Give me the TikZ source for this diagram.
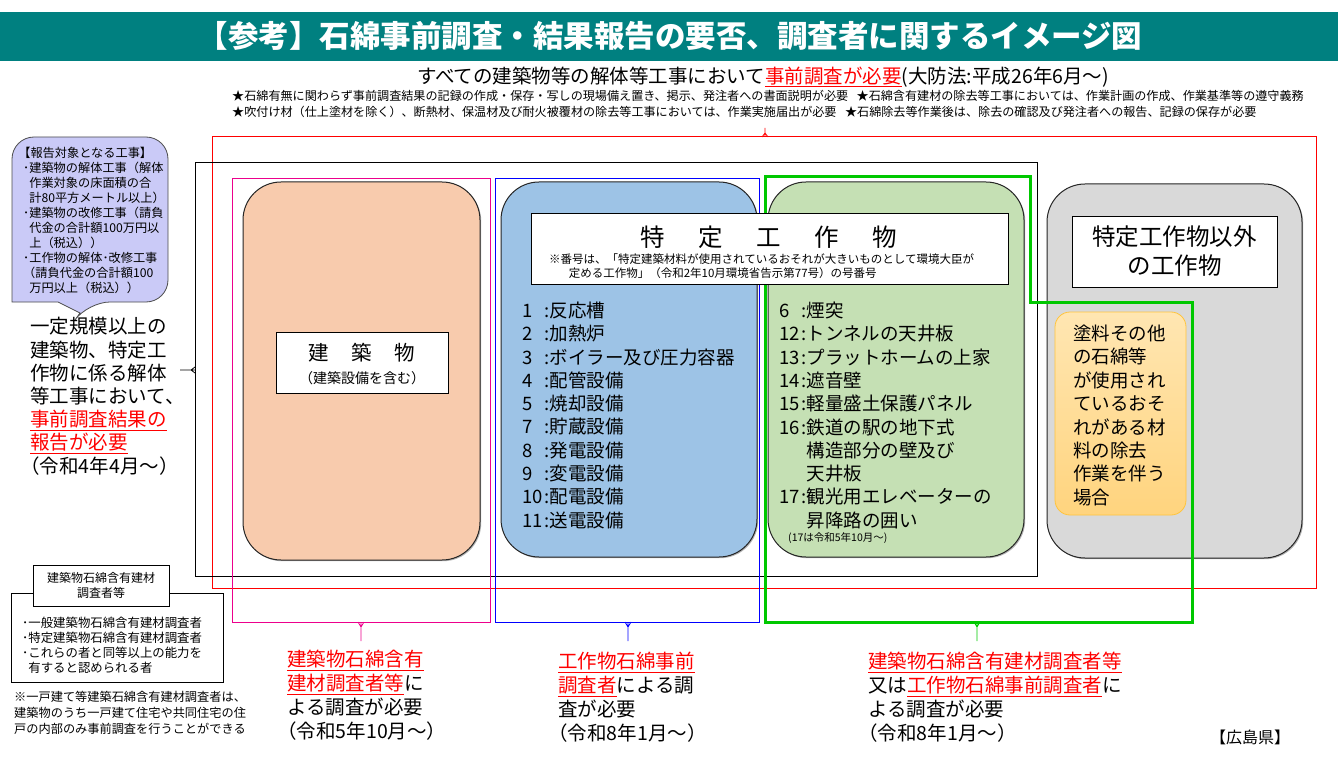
\documentclass[tikz,border=0pt]{standalone}
\usepackage{fontspec}
\setmainfont{Noto Sans CJK JP}
\usetikzlibrary{shadows}
\definecolor{bandteal}{HTML}{008080}
\definecolor{bldfill}{HTML}{F8CBAD}
\definecolor{plantfill}{HTML}{9DC3E6}
\definecolor{infrafill}{HTML}{C5E0B4}
\definecolor{otherfill}{HTML}{D9D9D9}
\definecolor{paintup}{HTML}{FFE6B2}
\definecolor{paintdown}{HTML}{FFD47E}
\definecolor{paintedge}{HTML}{FFC43D}
\definecolor{balloon}{HTML}{CACAF7}
\definecolor{frgreen}{HTML}{00C800}
\newcommand\setfs[2]{\fontsize{#1}{#2}\selectfont}
\newcommand\redul[1]{{\color{red}\underline{#1}}}
\newcommand\lno[1]{\makebox[1.2em][l]{#1}:}
\newcommand\lcont{\phantom{\lno{0}}}
\newcommand\opn{\hspace*{-.5em}}
\tikzset{
  bigbox/.style={draw=black!85,line width=1pt,rounded corners=38pt,
    drop shadow={shadow xshift=1.2pt,shadow yshift=-1.2pt,fill=black!60,opacity=.5}},
  labelbox/.style={draw,fill=white,line width=.8pt,inner sep=0pt},
  txt/.style={inner sep=0pt,align=left,anchor=north west},
  frame/.style={line width=1pt},
  tick/.style={line width=.8pt},
}

\begin{document}
\begin{tikzpicture}[x=1pt,y=-1pt]
\useasboundingbox (0,0) rectangle (1338,767);

% title band
\fill[bandteal] (0,12) rectangle (1338,61);
\node[text=white,font=\bfseries\setfs{30.5}{36}] (title) at (670,36) {【参考】石綿事前調査・結果報告の要否、調査者に関するイメージ図};

\node[font=\setfs{19.5}{23}] (allwork) at (763,77) {すべての建築物等の解体等工事において\redul{事前調査が必要}(大防法:平成26年6月～)};
\node[txt,anchor=west,font=\setfs{12.1}{15}] (dutya) at (232,96) {★石綿有無に関わらず事前調査結果の記録の作成・保存・写しの現場備え置き、掲示、発注者への書面説明が必要\hspace{.7em}★石綿含有建材の除去等工事においては、作業計画の作成、作業基準等の遵守義務};
\node[txt,anchor=west,font=\setfs{12.1}{15}] (dutyb) at (232,112) {★吹付け材（仕上塗材を除く）、断熱材、保温材及び耐火被覆材の除去等工事においては、作業実施届出が必要\hspace{.7em}★石綿除去等作業後は、除去の確認及び発注者への報告、記録の保存が必要};

% big rounded boxes
\draw[bigbox,fill=bldfill] (243,182) rectangle (480,560);
\draw[bigbox,fill=plantfill] (501,182) rectangle (757,557);
\draw[bigbox,fill=infrafill] (768,182) rectangle (1024,557);
\draw[bigbox,fill=otherfill] (1047,184) rectangle (1302,558);
\draw[draw=paintedge,line width=.8pt,rounded corners=15pt,top color=paintup,bottom color=paintdown] (1055,312) rectangle (1186,515);

% frames
\draw[frame,red] (212,137) rectangle (1316,588);
\draw[frame,black] (195,163) rectangle (1037,576);
\draw[frame,magenta] (232,179) rectangle (490,622);
\draw[frame,blue] (495,179) rectangle (759,622);
\draw[frgreen,line width=3pt] (765,177) -- (1030,177) -- (1030,302) -- (1192,302) -- (1192,622) -- (765,622) -- cycle;

% label boxes
\node[labelbox,minimum width=172pt,minimum height=61pt] (bldlabel) at (362,362.5) {};
\node[font=\setfs{20.5}{24}] (bldname) at (362,353) {建\hspace{1.1em}築\hspace{1.1em}物};
\node[font=\setfs{14}{17}] (bldsub) at (362,378) {（建築設備を含む）};

\node[labelbox,minimum width=477pt,minimum height=71pt] (plantlabel) at (769.5,249) {};
\node[font=\setfs{24.5}{28}] (plantname) at (768.5,237) {特\hspace{1.37em}定\hspace{1.37em}工\hspace{1.37em}作\hspace{1.37em}物};
\node[txt,font=\setfs{11.5}{14}] (plantnote) at (549,253.25) {※番号は、「特定建築材料が使用されているおそれが大きいものとして環境大臣が\\\hspace*{1.7em}定める工作物」（令和2年10月環境省告示第77号）の号番号};

\node[labelbox,minimum width=205pt,minimum height=71pt,align=center,font=\setfs{23.5}{29}] (otherlabel) at (1174.5,251.5) {特定工作物以外\\の工作物};

% lists
\node[txt,font=\setfs{18.5}{23.3}] (plantlist) at (522,301.75) {\lno{1}反応槽\\\lno{2}加熱炉\\\lno{3}ボイラー及び圧力容器\\\lno{4}配管設備\\\lno{5}焼却設備\\\lno{7}貯蔵設備\\\lno{8}発電設備\\\lno{9}変電設備\\\lno{10}配電設備\\\lno{11}送電設備};
\node[txt,font=\setfs{18.5}{23.3}] (infralist) at (779,301.75) {\lno{6}煙突\\\lno{12}トンネルの天井板\\\lno{13}プラットホームの上家\\\lno{14}遮音壁\\\lno{15}軽量盛土保護パネル\\\lno{16}鉄道の駅の地下式\\\lcont 構造部分の壁及び\\\lcont 天井板\\\lno{17}観光用エレベーターの\\\lcont 昇降路の囲い};
\node[txt,anchor=west,font=\setfs{10.5}{12}] (infranote) at (788,538) {(17は令和5年10月～)};
\node[txt,font=\setfs{18.5}{23.4}] (painttext) at (1073,324.75) {塗料その他\\の石綿等\\が使用され\\ているおそ\\れがある材\\料の除去\\作業を伴う\\場合};

% left side
\draw[draw=black!70,fill=balloon,line width=.8pt] (90,137) [rounded corners=22pt] -- (168,137) -- (168,302) -- (88,302) [sharp corners] -- (80,313) -- (58,302) -- (12,302) [rounded corners=22pt] -- (12,137) -- cycle;
\node[txt,font=\setfs{12.2}{15}] (reporttext) at (23,146.9) {\hspace*{-.4em}【報告対象となる工事】\\･建築物の解体工事（解体\\\hspace*{.5em}作業対象の床面積の合\\\hspace*{.5em}計80平方メートル以上）\\･建築物の改修工事（請負\\\hspace*{.5em}代金の合計額100万円以\\\hspace*{.5em}上（税込））\\･工作物の解体･改修工事\\（請負代金の合計額100\\\hspace*{.5em}万円以上（税込））};
\node[txt,font=\setfs{19.5}{23.2}] (reportneed) at (30,317.25) {一定規模以上の\\建築物、特定工\\作物に係る解体\\等工事において、\\\redul{事前調査結果の}\\\redul{報告が必要}\\\opn（令和4年4月～）};

\draw[line width=.8pt] (11,593) rectangle (223,682);
\node[labelbox,minimum width=136pt,minimum height=41pt,align=center,font=\setfs{12}{15}] (qualtitle) at (101,585.5) {建築物石綿含有建材\\調査者等};
\node[txt,font=\setfs{12.4}{15}] (quallist) at (22,616.8) {･一般建築物石綿含有建材調査者\\･特定建築物石綿含有建材調査者\\･これらの者と同等以上の能力を\\\hspace*{.5em}有すると認められる者};
\node[txt,font=\setfs{12.2}{16}] (qualnote) at (14,690.9) {※一戸建て等建築石綿含有建材調査者は、\\建築物のうち一戸建て住宅や共同住宅の住\\戸の内部のみ事前調査を行うことができる};

% bottom notes
\node[txt,font=\setfs{19.5}{24}] (bldneed) at (287,650.25) {\redul{建築物石綿含有}\\\redul{建材調査者等}に\\よる調査が必要\\\opn（令和5年10月～）};
\node[txt,font=\setfs{19.5}{23.7}] (plantneed) at (558,652.25) {\redul{工作物石綿事前}\\\redul{調査者}による調\\査が必要\\\opn（令和8年1月～）};
\node[txt,font=\setfs{19.5}{23.7}] (infraneed) at (868,652.25) {\redul{建築物石綿含有建材調査者等}\\又は\redul{工作物石綿事前調査者}に\\よる調査が必要\\\opn（令和8年1月～）};
\node[font=\setfs{16}{19}] (pref) at (1250,737) {【広島県】};

% ticks
\coordinate (redtop) at (765,128);
\coordinate (blackleft) at (180,370);
\coordinate (magbot) at (361,641);
\coordinate (bluebot) at (628,641);
\coordinate (greenbot) at (977,641);
\draw[tick,red] (redtop) -- (765,137) (762,137) -- (765,133) -- (768,137);
\draw[tick,black] (blackleft) -- (195,370) (195,367) -- (191,370) -- (195,373);
\draw[tick,magenta] (magbot) -- (361,622) (358,622) -- (361,627) -- (364,622);
\draw[tick,blue] (bluebot) -- (628,622) (625,622) -- (628,627) -- (631,622);
\draw[tick,frgreen] (greenbot) -- (977,622) (974,622) -- (977,627) -- (980,622);
\end{tikzpicture}
\end{document}
